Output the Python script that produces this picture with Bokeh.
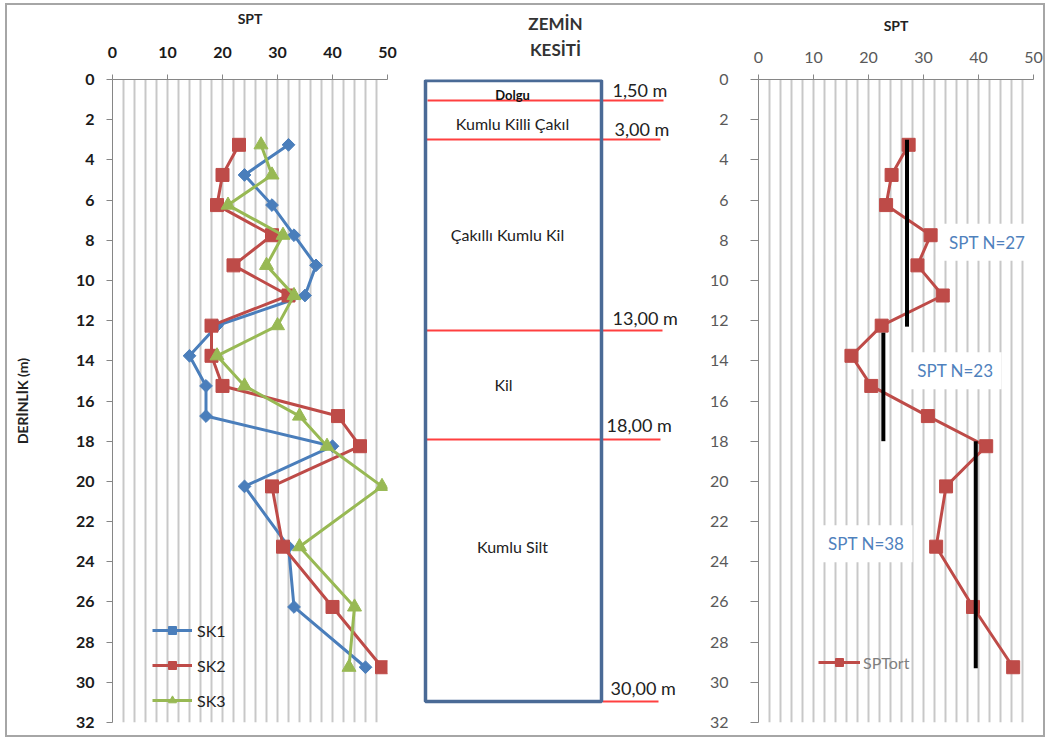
import math
from bokeh.plotting import figure
from bokeh.layouts import row
from bokeh.models import Range1d, FixedTicker, Legend, LegendItem, Label
from bokeh.embed import file_html
from bokeh.resources import INLINE
from bokeh.core.properties import value

# ---------------- data ----------------
depths = [3.25, 4.75, 6.25, 7.75, 9.25, 10.75, 12.25, 13.75, 15.25, 16.75,
          18.25, 20.25, 23.25, 26.25, 29.25]
sk1 = [32, 24, 29, 33, 37, 35, 19, 14, 17, 17, 40, 24, 32, 33, 46]
sk2 = [23, 20, 19, 29, 22, 32, 18, 18, 20, 41, 45, 29, 31, 40, 49]
sk3 = [27, 29, 21, 31, 28, 33, 30, 19, 24, 34, 39, 49, 34, 44, 43]
spt_ort = [27.3, 24.2, 23.2, 31.3, 28.9, 33.5, 22.4, 16.9, 20.5, 30.8,
           41.4, 34.1, 32.3, 39.0, 46.3]

avg_labels = ["SPT N=27", "SPT N=23", "SPT N=38"]
avg_values = [27, 22.7, 39.5]
avg_top = [3.0, 12.6, 18.0]
avg_bottom = [12.3, 18.0, 29.3]
avg_label_x = [41.6, 35.8, 19.6]
avg_label_y = [8.1, 14.5, 23.1]

x_ticks = [0, 10, 20, 30, 40, 50]
y_ticks = list(range(0, 33, 2))
grid_ticks = list(range(0, 51, 2))

layer_names = ["Dolgu", "Kumlu Killi Çakıl", "Çakıllı Kumlu Kil", "Kil", "Kumlu Silt"]
boundary_labels = ["1,50 m", "3,00 m", "13,00 m", "18,00 m", "30,00 m"]

# schematic drawing positions (page-pixel units of the soil column figure)
col_left, col_right, col_top, col_bottom = 425, 601, 80, 701
boundary_y = [100, 139, 330, 439, 701]
boundary_x0 = [427, 425, 425, 425, 602]
boundary_x1 = [663, 660, 662, 660, 658]
boundary_label_x = [612, 614, 612, 606, 610]
boundary_label_y = [89, 128, 317, 424, 687]
layer_label_x = [512, 512, 507, 503, 512]
layer_label_y = [94, 123, 234, 384, 546]

FONT = "Lato"
BLUE = "#4A7EBB"
RED = "#BE4B48"
GREEN = "#98B954"
GRID = "#C8C8C8"
AXIS = "#868686"

H = 730
TOP = 74      # frame top inside every figure (page y 79)
BOTTOM = 13   # frame bottom border (page y 722)


def style_depth_fig(p, label_color, bold_ticks):
    ax = p.xaxis[0]
    ax.ticker = FixedTicker(ticks=x_ticks)
    ax.axis_line_color = AXIS
    ax.major_tick_line_color = AXIS
    ax.major_tick_out = 5
    ax.major_tick_in = 0
    ax.minor_tick_line_color = None
    ax.major_label_text_font = FONT
    ax.major_label_text_font_size = "16px"
    ax.major_label_text_color = label_color
    ax.major_label_text_font_style = "bold" if bold_ticks else "normal"
    ax.axis_label = "SPT"
    ax.axis_label_text_font = FONT
    ax.axis_label_text_font_size = "14px"
    ax.axis_label_text_font_style = "bold"
    ax.axis_label_text_color = "#222222"

    ay = p.yaxis[0]
    ay.ticker = FixedTicker(ticks=y_ticks)
    ay.axis_line_color = AXIS
    ay.major_tick_line_color = AXIS
    ay.major_tick_out = 6
    ay.major_tick_in = 0
    ay.minor_tick_line_color = None
    ay.major_label_text_font = FONT
    ay.major_label_text_font_size = "16px"
    ay.major_label_text_color = label_color
    ay.major_label_text_font_style = "bold" if bold_ticks else "normal"

    p.xgrid[0].ticker = FixedTicker(ticks=grid_ticks)
    p.xgrid[0].grid_line_color = GRID
    p.xgrid[0].grid_line_width = 2
    p.ygrid[0].grid_line_color = None
    p.outline_line_color = None
    p.background_fill_color = "white"
    p.border_fill_color = "white"


# ---------------- left chart ----------------
p1 = figure(width=403, height=H, x_range=Range1d(0, 50), y_range=Range1d(32, 0),
            x_axis_location="above", toolbar_location=None, output_backend="svg",
            min_border_left=105, min_border_right=23, min_border_top=TOP,
            min_border_bottom=BOTTOM)
style_depth_fig(p1, "#1a1a1a", True)
p1.xaxis[0].major_label_standoff = 17
p1.xaxis[0].axis_label_standoff = 17
p1.yaxis[0].major_label_standoff = 12
p1.yaxis[0].axis_label = "DERİNLİK (m)"
p1.yaxis[0].axis_label_text_font = FONT
p1.yaxis[0].axis_label_text_font_size = "14px"
p1.yaxis[0].axis_label_text_font_style = "bold"
p1.yaxis[0].axis_label_text_color = "#222222"
p1.yaxis[0].axis_label_standoff = 42

l1 = p1.line(sk1, depths, line_color=BLUE, line_width=3)
m1 = p1.scatter(sk1, depths, marker="square", angle=math.pi / 4, size=9,
                fill_color=BLUE, line_color=BLUE)
l2 = p1.line(sk2, depths, line_color=RED, line_width=3)
m2 = p1.scatter(sk2, depths, marker="square", size=13, fill_color=RED, line_color=RED)
l3 = p1.line(sk3, depths, line_color=GREEN, line_width=3)
m3 = p1.scatter(sk3, depths, marker="triangle", size=14, fill_color=GREEN,
                line_color=GREEN)

leg1 = Legend(items=[LegendItem(label="SK1", renderers=[l1, m1]),
                     LegendItem(label="SK2", renderers=[l2, m2]),
                     LegendItem(label="SK3", renderers=[l3, m3])],
              location=(40, 12), padding=0, margin=0, spacing=15,
              glyph_width=40, glyph_height=20, label_standoff=5,
              label_text_font=FONT, label_text_font_size="16px",
              label_text_color="#222222",
              border_line_color=None, background_fill_alpha=0)
p1.add_layout(leg1)

# ---------------- middle: soil column ----------------
p2 = figure(width=290, height=H, x_range=Range1d(410, 700), y_range=Range1d(722, 79),
            x_axis_location="above", y_axis_type=None, toolbar_location=None,
            output_backend="svg", min_border_left=0, min_border_right=0,
            min_border_top=TOP, min_border_bottom=BOTTOM)
p2.grid.visible = False
p2.outline_line_color = None
p2.background_fill_color = "white"
p2.border_fill_color = "white"
hx = p2.xaxis[0]
hx.ticker = FixedTicker(ticks=[])
hx.axis_line_color = None
hx.major_tick_line_color = None
hx.minor_tick_line_color = None
hx.major_label_standoff = 0
hx.major_tick_out = 0
hx.axis_label = "ZEMİN\nKESİTİ"
hx.axis_label_text_font = FONT
hx.axis_label_text_font_size = "17px"
hx.axis_label_text_font_style = "bold"
hx.axis_label_text_color = "#333333"
hx.axis_label_text_line_height = 1.2
hx.axis_label_standoff = 20
hx.axis_label_text_align = "center"

p2.segment(x0=boundary_x0, y0=boundary_y, x1=boundary_x1, y1=boundary_y,
           line_color="#FF4040", line_width=2)
p2.quad(left=[col_left], right=[col_right], top=[col_top], bottom=[col_bottom],
        fill_color=None, line_color="#4A6A96", line_width=3.5)

p2.text(x=boundary_label_x, y=boundary_label_y, text=boundary_labels,
        text_align="left", text_baseline="middle", text_font=value(FONT),
        text_font_size="18px", text_color="#222222")
p2.text(x=layer_label_x[:1], y=layer_label_y[:1], text=layer_names[:1],
        text_align="center", text_baseline="middle", text_font=value(FONT),
        text_font_size="13px", text_font_style="bold", text_color="#111111")
p2.text(x=layer_label_x[1:], y=layer_label_y[1:], text=layer_names[1:],
        text_align="center", text_baseline="middle", text_font=value(FONT),
        text_font_size="16px", text_color="#222222")

# ---------------- right chart ----------------
p3 = figure(width=343, height=H, x_range=Range1d(0, 50), y_range=Range1d(32, 0),
            x_axis_location="above", toolbar_location=None, output_backend="svg",
            min_border_left=58, min_border_right=10, min_border_top=TOP,
            min_border_bottom=BOTTOM)
style_depth_fig(p3, "#595959", False)
p3.xaxis[0].major_label_standoff = 12
p3.xaxis[0].axis_label_standoff = 15
p3.yaxis[0].major_label_standoff = 22
p3.yaxis[0].major_tick_out = 8

lr = p3.line(spt_ort, depths, line_color=RED, line_width=3)
mr = p3.scatter(spt_ort, depths, marker="square", size=13, fill_color=RED, line_color=RED)
p3.segment(x0=avg_values, y0=avg_top, x1=avg_values, y1=avg_bottom,
           line_color="black", line_width=4)

for txt, lx, ly in zip(avg_labels, avg_label_x, avg_label_y):
    p3.add_layout(Label(x=lx, y=ly, text=txt, text_align="center",
                        text_baseline="middle", text_font=FONT,
                        text_font_size="17px", text_color="#4F81BD",
                        background_fill_color="white", padding=8))

leg3 = Legend(items=[LegendItem(label="SPTort", renderers=[lr, mr])],
              location=(60, 50), padding=0, margin=0, glyph_width=42,
              glyph_height=20, label_standoff=3, label_text_font=FONT,
              label_text_font_size="16px", label_text_color="#7F7F7F",
              border_line_color=None, background_fill_alpha=0)
p3.add_layout(leg3)

layout = row(p1, p2, p3, styles={"border": "2px solid #A6A6A6",
                                 "margin-left": "5px", "margin-top": "3px"})

open("out.html", "w").write(file_html(layout, INLINE))
